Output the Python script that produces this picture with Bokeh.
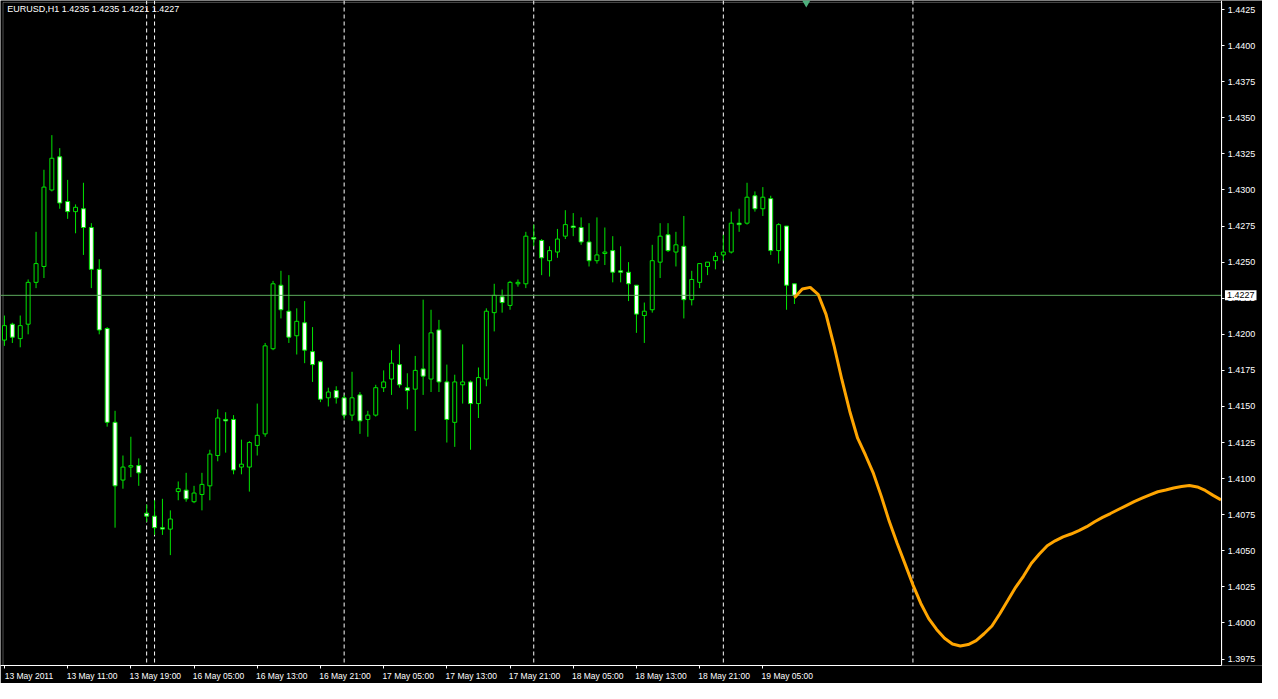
from bokeh.plotting import figure
from bokeh.models import (Range1d, FixedTicker, Span, Label, ColumnDataSource,
                          PrintfTickFormatter, LinearAxis, BoxAnnotation)
from bokeh.embed import file_html
from bokeh.resources import INLINE

# ---------------- data ----------------
symbol = "EURUSD,H1"
bar_index = list(range(101))
opens = [1.4196, 1.4207, 1.4197, 1.4207, 1.4236, 1.4247, 1.4300, 1.4323, 1.4292, 1.4285,
         1.4287, 1.4274, 1.4245, 1.4204, 1.4139, 1.4099, 1.4108, 1.4109, 1.4076, 1.4074,
         1.4066, 1.4065, 1.4091, 1.4092, 1.4084, 1.4089, 1.4095, 1.4116, 1.4141, 1.4141,
         1.4108, 1.4108, 1.4123, 1.4131, 1.4190, 1.4234, 1.4216, 1.4199, 1.4208, 1.4188,
         1.4181, 1.4156, 1.4161, 1.4156, 1.4144, 1.4158, 1.4141, 1.4144, 1.4163, 1.4169,
         1.4179, 1.4163, 1.4162, 1.4176, 1.4169, 1.4203, 1.4167, 1.4139, 1.4165, 1.4167,
         1.4152, 1.4169, 1.4215, 1.4226, 1.4220, 1.4235, 1.4235, 1.4267, 1.4265, 1.4251,
         1.4257, 1.4268, 1.4275, 1.4274, 1.4264, 1.4251, 1.4256, 1.4258, 1.4244, 1.4243,
         1.4234, 1.4213, 1.4217, 1.4250, 1.4269, 1.4257, 1.4261, 1.4224, 1.4236, 1.4247,
         1.4251, 1.4255, 1.4257, 1.4277, 1.4277, 1.4296, 1.4287, 1.4294, 1.4258, 1.4275,
         1.4235]
highs = [1.4213, 1.4208, 1.4213, 1.4238, 1.4271, 1.4314, 1.4338, 1.4329, 1.4307, 1.4290,
         1.4305, 1.4277, 1.4252, 1.4205, 1.4147, 1.4116, 1.4129, 1.4114, 1.4082, 1.4085,
         1.4086, 1.4078, 1.4098, 1.4104, 1.4095, 1.4104, 1.4120, 1.4148, 1.4146, 1.4144,
         1.4127, 1.4126, 1.4152, 1.4194, 1.4237, 1.4244, 1.4241, 1.4218, 1.4223, 1.4205,
         1.4182, 1.4163, 1.4164, 1.4158, 1.4174, 1.4160, 1.4147, 1.4165, 1.4175, 1.4189,
         1.4193, 1.4173, 1.4185, 1.4224, 1.4217, 1.4210, 1.4179, 1.4172, 1.4193, 1.4168,
         1.4177, 1.4218, 1.4235, 1.4231, 1.4237, 1.4238, 1.4271, 1.4276, 1.4266, 1.4261,
         1.4273, 1.4286, 1.4284, 1.4281, 1.4277, 1.4281, 1.4274, 1.4268, 1.4261, 1.4250,
         1.4234, 1.4222, 1.4262, 1.4277, 1.4277, 1.4271, 1.4282, 1.4244, 1.4249, 1.4250,
         1.4257, 1.4269, 1.4285, 1.4287, 1.4305, 1.4299, 1.4302, 1.4296, 1.4277, 1.4275,
         1.4235]
lows = [1.4192, 1.4194, 1.4191, 1.4200, 1.4232, 1.4239, 1.4299, 1.4287, 1.4280, 1.4270,
        1.4255, 1.4232, 1.4200, 1.4136, 1.4066, 1.4093, 1.4101, 1.4095, 1.4070, 1.4061,
        1.4061, 1.4047, 1.4085, 1.4084, 1.4083, 1.4078, 1.4085, 1.4112, 1.4118, 1.4103,
        1.4103, 1.4091, 1.4116, 1.4129, 1.4189, 1.4211, 1.4194, 1.4186, 1.4180, 1.4167,
        1.4153, 1.4150, 1.4152, 1.4141, 1.4140, 1.4131, 1.4129, 1.4143, 1.4160, 1.4158,
        1.4163, 1.4148, 1.4133, 1.4158, 1.4160, 1.4160, 1.4125, 1.4122, 1.4152, 1.4120,
        1.4142, 1.4164, 1.4202, 1.4215, 1.4217, 1.4233, 1.4232, 1.4261, 1.4241, 1.4240,
        1.4253, 1.4266, 1.4268, 1.4262, 1.4247, 1.4249, 1.4248, 1.4236, 1.4236, 1.4223,
        1.4201, 1.4194, 1.4215, 1.4239, 1.4257, 1.4247, 1.4211, 1.4220, 1.4232, 1.4241,
        1.4245, 1.4251, 1.4256, 1.4271, 1.4276, 1.4285, 1.4282, 1.4255, 1.4249, 1.4217,
        1.4221]
closes = [1.4206, 1.4198, 1.4206, 1.4236, 1.4249, 1.4302, 1.4322, 1.4291, 1.4285, 1.4288,
          1.4274, 1.4245, 1.4203, 1.4139, 1.4095, 1.4108, 1.4109, 1.4104, 1.4074, 1.4066,
          1.4065, 1.4072, 1.4093, 1.4086, 1.4090, 1.4096, 1.4117, 1.4142, 1.4140, 1.4106,
          1.4110, 1.4125, 1.4130, 1.4192, 1.4235, 1.4217, 1.4198, 1.4209, 1.4189, 1.4179,
          1.4155, 1.4160, 1.4156, 1.4144, 1.4156, 1.4140, 1.4144, 1.4163, 1.4167, 1.4180,
          1.4165, 1.4161, 1.4175, 1.4171, 1.4201, 1.4167, 1.4141, 1.4167, 1.4167, 1.4152,
          1.4170, 1.4216, 1.4227, 1.4222, 1.4236, 1.4236, 1.4268, 1.4266, 1.4253, 1.4258,
          1.4266, 1.4276, 1.4274, 1.4264, 1.4251, 1.4255, 1.4257, 1.4243, 1.4243, 1.4235,
          1.4214, 1.4216, 1.4251, 1.4268, 1.4258, 1.4262, 1.4224, 1.4238, 1.4249, 1.4250,
          1.4254, 1.4257, 1.4277, 1.4276, 1.4295, 1.4287, 1.4295, 1.4258, 1.4276, 1.4234,
          1.4227]

forecast_index = list(range(100, 155))
forecast_values = [1.42253, 1.42314, 1.42325, 1.42277, 1.42138, 1.41924, 1.41687, 1.41467,
                   1.41280, 1.41162, 1.41036, 1.40877, 1.40704, 1.40552, 1.40409, 1.40264,
                   1.40135, 1.40030, 1.39955, 1.39894, 1.39854, 1.39840, 1.39850, 1.39877,
                   1.39925, 1.39979, 1.40064, 1.40155, 1.40247, 1.40325, 1.40413, 1.40477,
                   1.40535, 1.40569, 1.40596, 1.40616, 1.40640, 1.40667, 1.40701, 1.40731,
                   1.40758, 1.40786, 1.40813, 1.40840, 1.40864, 1.40887, 1.40909, 1.40921,
                   1.40935, 1.40945, 1.40952, 1.40942, 1.40918, 1.40884, 1.40853]

day_separators = [18, 19, 43, 67, 91, 115]
time_tick_bars = [0, 8, 16, 24, 32, 40, 48, 56, 64, 72, 80, 88, 96]
time_tick_labels = ["13 May 2011", "13 May 11:00", "13 May 19:00", "16 May 05:00",
                    "16 May 13:00", "16 May 21:00", "17 May 05:00", "17 May 13:00",
                    "17 May 21:00", "18 May 05:00", "18 May 13:00", "18 May 21:00",
                    "19 May 05:00"]
price_ticks = [round(1.3975 + 0.0025 * i, 4) for i in range(19)]
arrow_bar = [101.5]
arrow_price = [1.4430]

# ---------------- layout constants ----------------
X_LEFT, X_AXIS, X_RIGHT = -0.5, 154.1, 159.25
Y_BOTTOM, Y_TOP = 1.39705, 1.44313
FONT = "Liberation Sans"
WHITE = "white"
LIME = "#00E600"

p = figure(width=1262, height=683, output_backend="svg", toolbar_location=None,
           x_range=Range1d(X_LEFT, X_RIGHT), y_range=Range1d(Y_BOTTOM, Y_TOP),
           y_axis_location=None,
           background_fill_color="black", border_fill_color="black",
           min_border_left=0, min_border_top=0, min_border_right=0, min_border_bottom=0)
p.grid.visible = False
p.outline_line_color = None

# time axis (labels begin at their tick, as in the terminal)
label_shift = 3.1
xa = p.xaxis[0]
xa.ticker = FixedTicker(ticks=[b + label_shift for b in time_tick_bars],
                        minor_ticks=time_tick_bars)
xa.major_label_overrides = {b + label_shift: t for b, t in zip(time_tick_bars, time_tick_labels)}
xa.bounds = (X_LEFT, X_AXIS)
xa.major_tick_out = 0
xa.major_tick_in = 0
xa.minor_tick_out = 3
xa.minor_tick_in = 0
xa.minor_tick_line_color = WHITE
xa.axis_line_color = WHITE
xa.major_label_standoff = 2
xa.major_label_text_color = WHITE
xa.major_label_text_font = FONT
xa.major_label_text_font_size = "8.5px"

# price scale drawn at the frame's right edge
ya = LinearAxis(fixed_location=X_AXIS, ticker=FixedTicker(ticks=price_ticks),
                formatter=PrintfTickFormatter(format="%.4f"))
ya.axis_line_color = WHITE
ya.major_tick_line_color = WHITE
ya.minor_tick_line_color = None
ya.major_tick_in = 0
ya.major_tick_out = 3
ya.major_label_standoff = 3
ya.major_label_text_color = WHITE
ya.major_label_text_font = FONT
ya.major_label_text_font_size = "9px"
p.add_layout(ya, "right")

# chart frame
p.add_layout(BoxAnnotation(left=-0.18, right=X_AXIS, bottom=Y_BOTTOM, top=1.44300,
                           fill_alpha=0, line_color=WHITE, line_width=1, level="underlay"))

# separators (period lines)
for s in day_separators:
    p.add_layout(Span(location=s, dimension="height", line_color=WHITE,
                      line_dash="4 3", line_width=1, level="underlay"))

# candles
bull = [i for i in bar_index if closes[i] >= opens[i]]
bear = [i for i in bar_index if closes[i] < opens[i]]
wick_src = ColumnDataSource(dict(x=bar_index, h=highs, l=lows))
p.segment(x0="x", y0="h", x1="x", y1="l", source=wick_src, line_color=LIME, line_width=1)
for idx, fill in ((bull, "black"), (bear, WHITE)):
    src = ColumnDataSource(dict(
        x=[bar_index[i] for i in idx],
        top=[max(opens[i], closes[i]) for i in idx],
        bottom=[min(opens[i], closes[i]) for i in idx]))
    p.vbar(x="x", top="top", bottom="bottom", width=0.5, source=src,
           fill_color=fill, line_color=LIME, line_width=1)

# bid line
p.segment(x0=[X_LEFT], y0=[closes[-1]], x1=[X_AXIS], y1=[closes[-1]],
          line_color="#5DAA5D", line_width=1)

# forecast curve
p.line(forecast_index, forecast_values, line_color="#FFA500", line_width=3)

# arrow at the top
p.scatter(arrow_bar, arrow_price, marker="inverted_triangle", size=9,
          fill_color="#4DAF7C", line_color=None)

# header text
header = "%s  %.4f %.4f %.4f %.4f" % (symbol, opens[-1], highs[-1], lows[-1], closes[-1])
p.add_layout(Label(x=0.35, y=1.44255, text=header, text_color=WHITE,
                   text_font=FONT, text_font_size="9px", text_baseline="middle"))

# bid price box on the price scale
p.add_layout(Label(x=X_AXIS + 0.4, y=closes[-1], text="%.4f" % closes[-1], text_color="black",
                   text_font=FONT, text_font_size="9px", text_baseline="middle",
                   background_fill_color=WHITE, padding=2, level="overlay"))

open("out.html", "w").write(file_html(p, INLINE))
